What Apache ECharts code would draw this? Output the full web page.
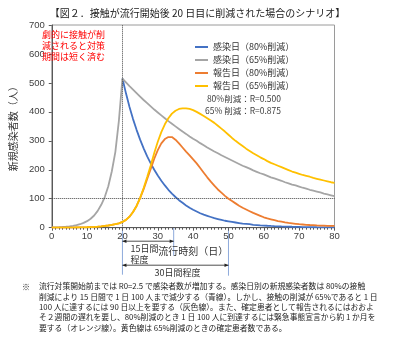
<!DOCTYPE html>
<html><head><meta charset="utf-8">
<script src="https://cdn.jsdelivr.net/npm/echarts@6/dist/echarts.min.js"></script>
<style>html,body{margin:0;padding:0;background:#fff}#c{width:395px;height:350px}</style>
</head><body><div id="c"></div>
<script>
// ---- data (day index = array index) ----
const seriesNames = ['感染日（80%削減）', '感染日（65%削減）', '報告日（80%削減）', '報告日（65%削減）'];
const blueStartDay = 20;
const infection80 = [515,464,417,375,338,304,274,246,222,200,180,162,146,131,118,106,95,86,77,69,62,56,50,45,41,37,33,30,27,24,22,20,18,16,14,13,12,10,9,8,7.5,6.7,6,5.4,4.9,4.4,4,3.6,3.2,2.9,2.6,2.3,2.1,1.9,1.7,1.5,1.4,1.2,1.1,1,0.9];
const infection65 = [1,1.3,1.8,2.5,3.4,4.7,6.4,8.8,12,16.5,22.6,31,42,58,79,106,143,195,262,370,515,
  502,489,477,465,453,441,430,419,408,398,388,378,368,359,350,341,332,324,315,307,300,292,285,277,270,263,257,250,244,238,232,226,220,214,209,204,198,193,188,184,179,174,170,166,162,157,153,149,146,142,138,135,131,128,125,122,118,115,112,109];
const report80 = [0,0.1,0.2,0.3,0.4,0.4,0.5,0.7,0.9,1.2,1.6,2.1,2.8,3.6,4.7,6,7.6,9.5,12,15,20,27,38,54,75,
  102,133,168,203,238,268,291,306,313,313,304,291,277,263,250,236,222,206,190,174,159,145,132,121,110,100,92,84,76,69,63,57,51,46,41,36,32,29,26,23,21,18.5,16.5,15,13.5,12,11,10,9.3,8.7,8,7.5,7,6.5,6.2,6];
const report65 = [0,0.1,0.2,0.3,0.4,0.4,0.5,0.7,0.9,1.2,1.6,2.1,2.8,3.6,4.7,6,7.6,9.5,12,15,20,27,38,54,75,
  103,137,175,215,258,297,330,357,378,394,404,410,412,412,410,406,400,393,386,378,370,362,352,342,332,321,310,300,291,282,273,265,257,250,243,237,230,224,219,214,209,204,199,194,190,186,182,179,176,172,169,166,163,160,157,155];
const xTicks = [0,10,20,30,40,50,60,70,80];
const yTicks = [0,100,200,300,400,500,600,700];
const annotDays = [20, 34.5, 50];
const colors = ['#4472C4', '#A5A5A5', '#ED7D31', '#FFC000'];
const redNote = ['劇的に接触が削', '減されると対策', '期間は短く済む'];

const JP = '"Noto Sans CJK JP", "Noto Sans", sans-serif';
const NUM = '"Liberation Sans", Arial, sans-serif';

const chart = echarts.init(document.getElementById('c'), null, {renderer: 'canvas'});
function pairs(arr, start) { return arr.map((v, i) => [i + (start || 0), v]); }
const dataSets = [pairs(infection80, blueStartDay), pairs(infection65), pairs(report80), pairs(report65)];

const series = seriesNames.map((n, k) => ({
  name: n, type: 'line', data: dataSets[k], symbol: 'none', smooth: false,
  lineStyle: {color: colors[k], width: 1.8}, itemStyle: {color: colors[k]},
  emphasis: {disabled: true}, z: 3 + k
}));
series[1].markLine = {
  silent: true, symbol: 'none', label: {show: false},
  lineStyle: {type: 'dotted', color: '#444', width: 1},
  data: [{xAxis: 20}, {yAxis: 100}]
};

const option = {
  animation: false,
  title: {
    text: '【図２．接触が流行開始後 20 日目に削減された場合のシナリオ】',
    left: 'center', top: 3,
    textStyle: {fontSize: 10, fontWeight: 'normal', color: '#222', fontFamily: JP}
  },
  grid: {left: 38.5, top: 25, right: 60.5, bottom: 122.3, show: true, borderColor: '#9a9a9a', borderWidth: 1},
  legend: {
    orient: 'vertical', left: 190, top: 37, itemWidth: 13, itemHeight: 2, itemGap: 3,
    icon: 'rect',
    data: seriesNames,
    textStyle: {fontSize: 9, lineHeight: 10, color: '#333', fontFamily: JP}
  },
  xAxis: {
    type: 'value', min: 0, max: 80, interval: 10,
    name: '流行時刻（日）', nameLocation: 'middle', nameGap: 17,
    nameTextStyle: {fontSize: 10, color: '#333', fontFamily: JP},
    axisLine: {lineStyle: {color: '#595959'}},
    axisTick: {show: true, inside: false, length: 3, lineStyle: {color: '#595959'}},
    minorTick: {show: true, splitNumber: 10, length: 2, lineStyle: {color: '#595959'}},
    splitLine: {show: false},
    axisLabel: {fontSize: 9.5, color: '#404040', fontFamily: NUM, margin: 4,
      formatter: v => xTicks.includes(v) ? String(v) : ''}
  },
  yAxis: {
    type: 'value', min: 0, max: 700, interval: 100,
    name: '新規感染者数（人）', nameLocation: 'middle', nameRotate: 90, nameGap: 29,
    nameTextStyle: {fontSize: 10, color: '#333', fontFamily: JP},
    axisLine: {show: true, lineStyle: {color: '#595959'}},
    axisTick: {show: true, length: 3, lineStyle: {color: '#595959'}},
    splitLine: {show: false},
    axisLabel: {fontSize: 9.5, color: '#404040', fontFamily: NUM, margin: 7,
      formatter: v => yTicks.includes(v) ? String(v) : ''}
  },
  series: series
};
chart.setOption(option);

// ---- annotations ----
const px = d => chart.convertToPixel({xAxisIndex: 0}, d);
const y0 = chart.convertToPixel({yAxisIndex: 0}, 0);
const xa = annotDays.map(px);
const g = [];
const vLen = [47, 28, 48];
xa.forEach((x, i) => g.push({type: 'line', silent: true,
  shape: {x1: x, y1: y0, x2: x, y2: y0 + vLen[i]}, style: {stroke: '#8eaadb', lineWidth: 1}}));
function arrow(xL, xR, y) {
  g.push({type: 'line', silent: true, shape: {x1: xL, y1: y, x2: xR, y2: y}, style: {stroke: '#222', lineWidth: 0.8}});
  g.push({type: 'polygon', silent: true, shape: {points: [[xL, y], [xL + 4, y - 1.8], [xL + 4, y + 1.8]]}, style: {fill: '#222'}});
  g.push({type: 'polygon', silent: true, shape: {points: [[xR, y], [xR - 4, y - 1.8], [xR - 4, y + 1.8]]}, style: {fill: '#222'}});
}
arrow(xa[0], xa[1], y0 + 13.5);
arrow(xa[0], xa[2], y0 + 37.5);
function txt(s, x, y, size, color, align) {
  g.push({type: 'text', silent: true, x: x, y: y, z: 100,
    style: {text: s, fontSize: size, fill: color, fontFamily: JP, align: align || 'left', verticalAlign: 'middle'}});
}
txt('15日間', xa[0] + 8, y0 + 21, 9, '#333');
txt('程度', xa[0] + 8, y0 + 32, 9, '#333');
txt('30日間程度', (xa[0] + xa[2]) / 2 + 2, y0 + 45, 9, '#333', 'center');
// red note
redNote.forEach((s, i) => txt(s, 42, 35 + i * 10.7, 9, '#ff0000'));
// R values
txt('80%削減：R=0.500', 281, 99, 8.5, '#404040', 'right');
txt('65% 削減：R=0.875', 281, 110.5, 8.5, '#404040', 'right');
// footnote
const foot = [
  '流行対策開始前までは R0=2.5 で感染者数が増加する。感染日別の新規感染者数は 80%の接触',
  '削減により 15 日間で 1 日 100 人まで減少する（青線）。しかし、接触の削減が 65%であると 1 日',
  '100 人に達するには 90 日以上を要する（灰色線）。また、確定患者として報告されるにはおおよ',
  'そ２週間の遅れを要し、80%削減のとき 1 日 100 人に到達するには緊急事態宣言から約 1 か月を',
  '要する（オレンジ線）。黄色線は 65%削減のときの確定患者数である。'
];
txt('※', 22, 286.5, 8, '#222');
foot.forEach((s, i) => txt(s, 39, 286.5 + i * 10.3, 7.8, '#222'));
chart.setOption({graphic: g});
</script></body></html>
